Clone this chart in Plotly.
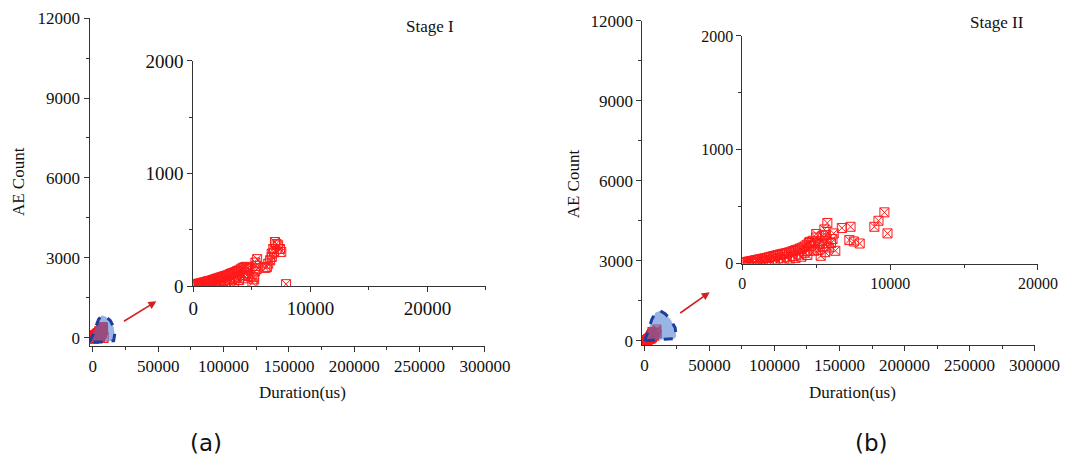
import plotly.graph_objects as go

W, H = 1078, 457

# ---------------- data ----------------
# Stage I : Duration (us) vs AE count
dur_a = [50, 150, 250, 350, 450, 600, 750, 900, 1050, 1200, 1350, 1500, 1650, 1800, 1950,
         2100, 2250, 2400, 2550, 2700, 2850, 3000, 3150, 3300, 3450, 3600, 3750, 3900, 4050,
         4200, 4350, 4500, 4650, 4800,
         300, 700, 1100, 1500, 1900, 2300, 2700, 3100, 3500, 3900, 4300, 4700,
         500, 1000, 1400, 1700, 2000, 2200, 2500, 2800, 3050, 3350, 3650, 3950, 4250, 4550,
         5050, 5150, 5250, 5350, 5450, 5300, 5400, 5200,
         6150, 6280, 6400, 6560, 6690, 6830, 6970, 7100, 7240, 7400, 7510, 6700, 6900,
         7920]
cnt_a = [5, 10, 15, 20, 22, 25, 30, 33, 38, 42, 46, 50, 55, 60, 65,
         70, 75, 80, 85, 90, 95, 100, 108, 115, 120, 125, 135, 140, 150,
         160, 168, 172, 160, 150,
         3, 5, 8, 12, 15, 20, 28, 35, 40, 55, 70, 90,
         8, 15, 22, 30, 35, 40, 48, 52, 58, 65, 75, 85, 100, 115,
         30, 80, 130, 180, 240, 210, 150, 60,
         162, 171, 200, 230, 289, 330, 392, 375, 363, 330, 304, 260, 300,
         18]

# Stage II : Duration (us) vs AE count
dur_b = [50, 150, 250, 350, 450, 600, 750, 900, 1050, 1200, 1350, 1500, 1650, 1800, 1950,
         2100, 2250, 2400, 2550, 2700, 2850, 3000, 3150, 3300, 3450, 3600, 3750, 3900, 4050,
         4200, 4350, 4500,
         400, 800, 1200, 1600, 2000, 2400, 2800, 3200, 3600, 4000, 4400,
         600, 1000, 1400, 1800, 2200, 2600, 3000, 3400, 3800, 4200,
         4650, 4870, 4980, 5200, 5300, 5420, 5700, 5850, 6100, 6180, 6290, 5750, 6730, 7320,
         7240, 7540, 7940, 8930, 9210, 9610, 9820,
         4750, 5000, 5100, 5550, 5600, 4900, 5350, 5650, 5500, 6000, 4400, 4550]
cnt_b = [5, 8, 12, 15, 18, 22, 26, 30, 34, 38, 42, 46, 50, 55, 60,
         66, 70, 75, 80, 85, 88, 92, 98, 104, 110, 118, 124, 132, 140,
         150, 165, 180,
         3, 6, 10, 14, 18, 25, 30, 40, 50, 60, 75,
         10, 16, 22, 30, 36, 45, 55, 65, 80, 95,
         156, 112, 229, 170, 68, 244, 200, 141, 215, 265, 112, 356, 312, 323,
         206, 194, 176, 323, 376, 450, 265,
         200, 260, 120, 300, 100, 180, 200, 250, 150, 180, 110, 190]

# highlighted (zoomed) region outline in the main axes
blob_a_x = [-2500, 500, 2500, 4500, 7000, 10000, 13500, 16000, 16800, 16000, 8000, -2500]
blob_a_y = [-150, 150, 450, 700, 850, 800, 650, 400, 150, -100, -150, -150]
blob_b_x = [0, 2440, 5600, 8540, 12200, 15860, 20250, 23670, 24400, 23200, 13400, 0]
blob_b_y = [0, 308, 800, 1070, 1130, 1020, 800, 490, 185, 86, 60, 0]

main_xticks = [0, 50000, 100000, 150000, 200000, 250000, 300000]
main_yticks = [0, 3000, 6000, 9000, 12000]
inset_a_xticks = [0, 10000, 20000]
inset_b_xticks = [0, 10000, 20000]
inset_yticks = [0, 1000, 2000]

# ---------------- styling ----------------
SERIF = "Liberation Serif, Times New Roman, serif"
AX = "#333333"
RED = "#ff1a1a"

# placement correction (target pixel -> layout pixel)
SX, OX = 0.9725, 11.4
SY, OY = 0.957, 18.0


def clamp(v):
    return max(0.0, min(1.0, v))


def px(x):
    return (x - OX) / SX / W


def py(y):
    return 1 - (y - OY) / SY / H


def dom_x(a, b):
    return [clamp(px(a)), clamp(px(b))]


def dom_y(bottom, top):
    return [clamp(py(bottom)), clamp(py(top))]


def axis(domain, rng, ticks, dtick_minor, fs, anchor):
    return dict(domain=domain, range=rng, tickvals=ticks, ticktext=[str(t) for t in ticks],
                ticks="outside", ticklen=5,
                tickcolor=AX, showline=True, linecolor=AX, linewidth=1, showgrid=False,
                zeroline=False, anchor=anchor,
                tickfont=dict(family=SERIF, size=fs, color="#111111"),
                minor=dict(dtick=dtick_minor, ticks="outside", ticklen=3, tickcolor=AX,
                           showgrid=False))


fig = go.Figure()

marker_main_a = dict(symbol="square-x-open", size=10, color=RED, line=dict(width=1, color=RED))
marker_main_b = dict(symbol="square-x-open", size=8, color=RED, line=dict(width=1, color=RED))
marker_in = dict(symbol="square-x-open", size=9, color=RED, line=dict(width=1, color=RED))

# main (a)
fig.add_trace(go.Scatter(x=dur_a, y=cnt_a, mode="markers", marker=marker_main_a,
                         xaxis="x", yaxis="y", showlegend=False, hoverinfo="skip"))
fig.add_trace(go.Scatter(x=blob_a_x, y=blob_a_y, mode="lines", fill="toself",
                         fillcolor="rgba(70,120,210,0.55)",
                         line=dict(color="#1a3f9e", width=3, dash="dash"),
                         xaxis="x", yaxis="y", showlegend=False, hoverinfo="skip"))
# inset (a)
fig.add_trace(go.Scatter(x=dur_a, y=cnt_a, mode="markers", marker=marker_in,
                         xaxis="x2", yaxis="y2", showlegend=False))
# main (b)
fig.add_trace(go.Scatter(x=dur_b, y=cnt_b, mode="markers", marker=marker_main_b,
                         xaxis="x3", yaxis="y3", showlegend=False, hoverinfo="skip"))
fig.add_trace(go.Scatter(x=blob_b_x, y=blob_b_y, mode="lines", fill="toself",
                         fillcolor="rgba(70,120,210,0.55)",
                         line=dict(color="#1a3f9e", width=3, dash="dash"),
                         xaxis="x3", yaxis="y3", showlegend=False, hoverinfo="skip"))
# inset (b)
fig.add_trace(go.Scatter(x=dur_b, y=cnt_b, mode="markers", marker=marker_in,
                         xaxis="x4", yaxis="y4", showlegend=False))

layout = dict(
    width=W, height=H, margin=dict(l=0, r=0, t=0, b=0),
    paper_bgcolor="white", plot_bgcolor="rgba(0,0,0,0)", showlegend=False,
    xaxis=axis(dom_x(88, 484), [-2500, 300000], main_xticks, 25000, 17, "y"),
    yaxis=axis(dom_y(347, 16.7), [-300, 12000], main_yticks, 1500, 17, "x"),
    xaxis2=axis(dom_x(192, 485), [0, 25000], inset_a_xticks, 5000, 19, "y2"),
    yaxis2=axis(dom_y(287, 61), [0, 2000], inset_yticks, 500, 19, "x2"),
    xaxis3=axis(dom_x(641.7, 1034.3), [-1500, 300000], main_xticks, 25000, 17, "y3"),
    yaxis3=axis(dom_y(346, 21), [-150, 12000], main_yticks, 1500, 17, "x3"),
    xaxis4=axis(dom_x(741.7, 1037.7), [0, 20000], inset_b_xticks, 5000, 16, "y4"),
    yaxis4=axis(dom_y(264.3, 36), [0, 2000], inset_yticks, 500, 16, "x4"),
)
fig.update_layout(**layout)

texts = [
    ("AE Count", 17, 182, 17, SERIF, -90),
    ("AE Count", 573, 184, 17, SERIF, -90),
    ("Duration(us)", 301, 394, 17, SERIF, 0),
    ("Duration(us)", 852, 394, 17, SERIF, 0),
    ("Stage I", 429, 27, 17, SERIF, 0),
    ("Stage II", 997, 23, 17, SERIF, 0),
    ("(a)", 205, 444, 23, "DejaVu Sans, sans-serif", 0),
    ("(b)", 871, 444, 23, "DejaVu Sans, sans-serif", 0),
]
for t, x, y, s, f, ang in texts:
    fig.add_annotation(text=t, x=px(x), y=py(y), xref="paper", yref="paper",
                       showarrow=False, xanchor="center", yanchor="middle", textangle=ang,
                       font=dict(family=f, size=s, color="#111111"))

# arrows pointing from the highlighted region to the inset
fig.add_annotation(x=48680, y=1376, ax=22700, ay=594, xref="x", yref="y", axref="x", ayref="y",
                   showarrow=True, arrowhead=2, arrowsize=1, arrowwidth=1.6, arrowcolor="#d42020",
                   text="")
fig.add_annotation(x=50190, y=1832, ax=26380, ay=1009, xref="x3", yref="y3", axref="x3", ayref="y3",
                   showarrow=True, arrowhead=2, arrowsize=1, arrowwidth=1.6, arrowcolor="#d42020",
                   text="")

fig.write_html("out.html")
